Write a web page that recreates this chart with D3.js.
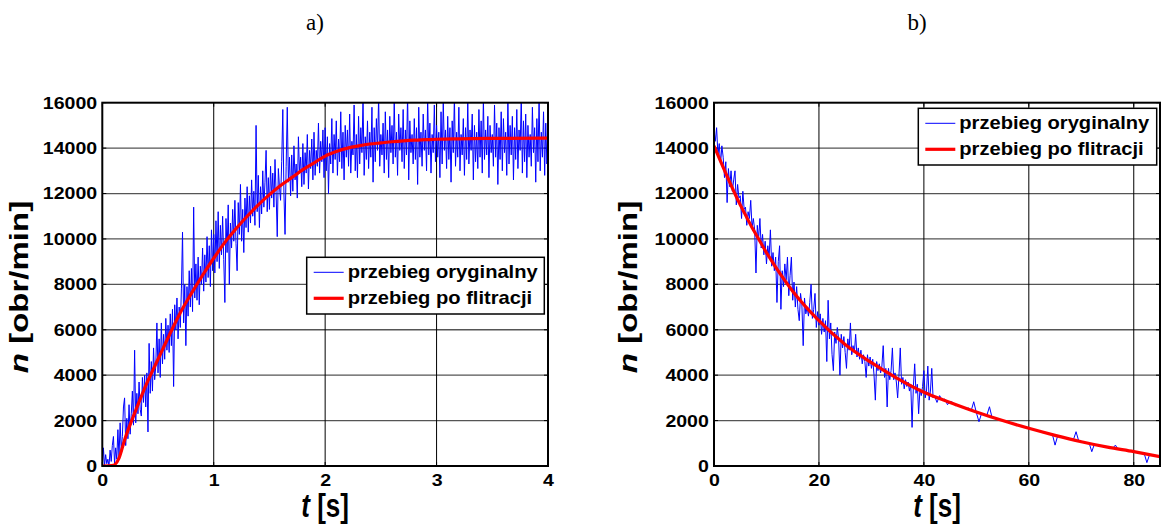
<!DOCTYPE html>
<html>
<head>
<meta charset="utf-8">
<script src="https://cdn.jsdelivr.net/npm/d3@7"></script>
<style>
  html, body { margin: 0; padding: 0; background: #fff; }
  svg { display: block; }
  text { font-family: "Liberation Sans", Arial, sans-serif; font-weight: bold; fill: #000; }
</style>
</head>
<body>
<svg id="fig" width="1165" height="524"></svg>
<script>
// ---- panel a) : run-up, sampled every 0.01 s from 0 to 4 s ----
const runupDt = 0.01;
const runupRaw = [
  0, 800, 0, 500, 100, 300, 0, 700, 200, 900,
  1300, 100, 800, 300, 1600, 400, 1900, 700, 1300, 2600,
  3000, 900, 2100, 1200, 2700, 1400, 2300, 3300, 1800, 5100,
  1900, 3200, 2300, 3700, 2500, 2200, 3900, 2800, 4000, 2600,
  4100, 1500, 5400, 3200, 4600, 3300, 5200, 3800, 4400, 6300,
  4100, 5600, 3900, 6300, 4500, 5800, 4700, 6500, 5100, 6200,
  5000, 6700, 5300, 6900, 3500, 7100, 6000, 7400, 5600, 7000,
  6100, 7800, 10300, 6300, 8000, 5300, 7900, 6600, 8600, 7000,
  8700, 6800, 11400, 7400, 8900, 7300, 9200, 7100, 8800, 8000,
  9600, 7700, 9300, 8100, 10100, 8300, 9700, 7900, 10400, 8600,
  10200, 8500, 10800, 9000, 11200, 8700, 10600, 9300, 11000, 9100,
  7200, 10900, 9400, 11500, 8000, 10700, 9600, 11300, 9900, 11700,
  9800, 8600, 11600, 10200, 12400, 9900, 11300, 9400, 11800, 10500,
  12300, 10300, 11900, 10700, 12600, 11000, 12100, 10600, 15000, 11200,
  12800, 10500, 12300, 11100, 13000, 11400, 12500, 13900, 11200, 12700,
  11300, 13200, 11800, 12900, 11400, 13500, 12000, 10100, 13100, 12300,
  11700, 13400, 15700, 12000, 10200, 13200, 15800, 12500, 13600, 11900,
  13700, 12100, 14100, 12600, 13300, 11800, 14500, 12900, 13600, 12300,
  14200, 12400, 13800, 12900, 14600, 12200, 13900, 13100, 14400, 12600,
  14700, 12800, 13900, 13200, 15100, 12900, 14300, 13400, 14800, 12700,
  14900, 13000, 14500, 12000, 14200, 13300, 15300, 12900, 14600, 13500,
  15200, 12800, 14400, 13400, 15600, 13100, 14700, 12600, 15000, 13600,
  14800, 13200, 15500, 12900, 14300, 13700, 15900, 13000, 14600, 12700,
  15400, 13300, 14900, 13800, 16200, 12800, 14500, 13500, 15200, 13100,
  14700, 13600, 15800, 12500, 14900, 13400, 15300, 13900, 16300, 13200,
  14600, 13700, 15100, 12900, 15600, 13500, 14800, 12700, 15400, 13800,
  15000, 13300, 16100, 13600, 14700, 12800, 15500, 13900, 14900, 13400,
  15700, 13100, 14800, 13700, 16400, 12600, 15200, 13800, 14600, 13300,
  15300, 13500, 14900, 12400, 15800, 13600, 14700, 13200, 15500, 13900,
  14800, 13000, 16200, 13700, 15100, 12900, 14600, 13800, 15900, 13400,
  15000, 13600, 14700, 12700, 15600, 13300, 16100, 13900, 14800, 13100,
  15400, 13500, 14900, 12500, 15200, 13800, 16300, 13200, 14700, 13600,
  15800, 13000, 14600, 13700, 15300, 12800, 14900, 13500, 16000, 13300,
  14800, 13900, 15500, 12600, 15000, 13400, 14700, 13100, 15700, 13600,
  15200, 12900, 16200, 13500, 14800, 13700, 15400, 12700, 15000, 13800,
  14600, 13200, 15900, 13600, 15100, 12400, 14900, 13500, 15600, 13000,
  15300, 13800, 14700, 12800, 16100, 13300, 15000, 13700, 15400, 12600,
  14900, 13500, 15700, 13100, 14800, 13900, 16300, 12900, 15200, 13400,
  15500, 12700, 15000, 13600, 14600, 13200, 15800, 13800, 14900, 12500,
  15300, 13400, 16200, 13000, 14700, 13600, 15600, 12800, 15100, 13300,
  14600
];
// filtered run-up curve
const runupFiltT = [0, 0.1, 0.15, 0.2, 0.3, 0.4, 0.5, 0.6, 0.7, 0.8, 0.9, 1.0, 1.1, 1.2, 1.3, 1.4,
  1.5, 1.6, 1.7, 1.8, 1.9, 2.0, 2.1, 2.2, 2.3, 2.4, 2.5, 2.6, 2.7, 2.8, 2.9, 3.0, 3.2, 3.5, 4.0];
const runupFiltN = [0, 30, 350, 1150, 2450, 3650, 4700, 5750, 6750, 7600, 8400, 9150, 9850, 10450, 11000, 11500,
  11950, 12350, 12700, 13050, 13350, 13650, 13850, 14000, 14100, 14180, 14230, 14280, 14320, 14350, 14370, 14390, 14410, 14430, 14440];

// ---- panel b) : run-down; 0.25 s samples up to 42 s, then 0.5 s samples to 85 s ----
const rundownDtA = 0.25;
const rundownRawA = [
  14800, 14300, 14900, 13700,
  14200, 13300, 14100, 13600,
  12700, 13400, 11600, 13100,
  12300, 13000, 12100, 12600,
  13000, 11500, 12400, 11800,
  11900, 10900, 12100, 11300,
  11400, 10600, 11200, 10900,
  11700, 10500, 10900, 10400,
  8500, 10600, 10000, 10900,
  9600, 10200, 9300, 9900,
  8900, 9700, 9200, 10400,
  8800, 9400, 8600, 9200,
  7200, 9000, 9700, 6900,
  8600, 7900, 8900, 8200,
  9200, 7500, 8400, 9200,
  7300, 8100, 7000, 7900,
  6900, 6400, 7600, 7100,
  5300, 7400, 6700, 7000,
  6600, 7200, 8000, 6500,
  6900, 7600, 6100, 6800,
  6200, 6700, 5800, 6500,
  5900, 6400, 4600, 7300,
  5600, 6300, 4900, 4200,
  5900, 5400, 6100, 5600,
  4000, 5800, 5200, 5700,
  5000, 4300, 5600, 5100,
  6300, 4900, 5300, 5000,
  5800, 4800, 5200, 4700,
  5100, 4500, 4900, 4600,
  3900, 4900, 4400, 4800,
  4300, 4700, 4000, 2900,
  4600, 4200, 4500, 4100,
  4400, 5300, 3900, 4300,
  2600, 4300, 3800, 4200,
  5200, 3800, 4100, 3700,
  3000, 4000, 5200, 3600,
  3900, 3400, 3800, 3500,
  3700, 3300, 3600, 1700,
  3500, 4500, 3200, 3600,
  2300, 3400, 3100, 3500,
  4200, 3000, 3300, 4400,
  2900, 3300, 4300, 3000,
  3100
];
const rundownStartB = 42.5;
const rundownDtB = 0.5;
const rundownRawB = [
  2800, 3100, 2900, 2950, 2700, 2850, 2800, 2650, 2720, 2600,
  2620, 2500, 2560, 2420, 2830, 2350, 1950, 2320, 2250, 2230,
  2610, 2120, 2130, 2050, 2060, 1980, 1990, 1920, 1910, 1840,
  1850, 1780, 1770, 1720, 1710, 1650, 1640, 1590, 1580, 1530,
  1520, 1460, 1450, 1400, 1390, 920, 1330, 1280, 1270, 1230,
  1220, 1170, 1160, 1510, 1110, 1060, 1060, 1010, 1010, 630,
  960, 910, 910, 870, 860, 820, 820, 780, 920, 740,
  740, 700, 700, 660, 660, 620, 620, 580, 580, 540,
  150, 490, 490, 450, 450, 400
];
// filtered run-down curve
const rundownFiltT = [0, 5, 10, 15, 20, 25, 30, 35, 40, 45, 50, 55, 60, 65, 70, 75, 80, 85];
const rundownFiltN = [14100, 11500, 9400, 7700, 6400, 5350, 4550, 3850, 3250, 2800, 2380, 2000, 1660, 1350, 1070, 830, 630, 410];

// ---- axis ticks and labels ----
const nTicks = [0, 2000, 4000, 6000, 8000, 10000, 12000, 14000, 16000];
const runupTicks = [0, 1, 2, 3, 4];
const rundownTicks = [0, 20, 40, 60, 80];
const panelTitles = ["a)", "b)"];
const legendLabels = ["przebieg oryginalny", "przebieg po flitracji"];

// ---- assemble point series ----
const runupRawPts = runupRaw.map((n, i) => ({ t: i * runupDt, n }));
const runupFiltPts = runupFiltT.map((t, i) => ({ t, n: runupFiltN[i] }));
const rundownRawPts = rundownRawA.map((n, i) => ({ t: i * rundownDtA, n }))
  .concat(rundownRawB.map((n, i) => ({ t: rundownStartB + i * rundownDtB, n })));
const rundownFiltPts = rundownFiltT.map((t, i) => ({ t, n: rundownFiltN[i] }));

const svg = d3.select("#fig");
const SX = 1.15;   // horizontal stretch of tick and legend text
const SV = 1.27;   // vertical stretch of axis titles

function drawPanel(cfg) {
  const { left, right, top, bottom, xDomain, xTicks, raw, filt, legend, title, titleX, yTitleX } = cfg;
  const x = d3.scaleLinear().domain(xDomain).range([left, right]);
  const y = d3.scaleLinear().domain([0, 16000]).range([bottom, top]);
  const g = svg.append("g");
  const clipId = "clip" + Math.round(left);
  svg.append("clipPath").attr("id", clipId)
    .append("rect").attr("x", left).attr("y", top).attr("width", right - left).attr("height", bottom - top);

  // grid
  g.append("g").selectAll("line").data(nTicks.slice(1, -1)).join("line")
    .attr("x1", left).attr("x2", right)
    .attr("y1", d => y(d)).attr("y2", d => y(d))
    .attr("stroke", "#555").attr("stroke-width", 1.3);
  g.append("g").selectAll("line").data(xTicks.filter(d => d > xDomain[0] && d < xDomain[1])).join("line")
    .attr("y1", top).attr("y2", bottom)
    .attr("x1", d => x(d)).attr("x2", d => x(d))
    .attr("stroke", "#000").attr("stroke-width", 1);

  // inward tick marks on all four sides
  const tl = 4;
  const tk = g.append("g").attr("stroke", "#000").attr("stroke-width", 1);
  nTicks.forEach(d => {
    tk.append("line").attr("x1", left).attr("x2", left + tl).attr("y1", y(d)).attr("y2", y(d));
    tk.append("line").attr("x1", right).attr("x2", right - tl).attr("y1", y(d)).attr("y2", y(d));
  });
  xTicks.forEach(d => {
    tk.append("line").attr("x1", x(d)).attr("x2", x(d)).attr("y1", bottom).attr("y2", bottom - tl);
    tk.append("line").attr("x1", x(d)).attr("x2", x(d)).attr("y1", top).attr("y2", top + tl);
  });

  // data
  const line = d3.line().x(d => x(d.t)).y(d => y(d.n));
  const dg = g.append("g").attr("clip-path", `url(#${clipId})`);
  dg.append("path").datum(raw).attr("d", line)
    .attr("fill", "none").attr("stroke", "#0000ff").attr("stroke-width", 1).attr("stroke-linejoin", "round");
  dg.append("path").datum(filt).attr("d", line.curve(d3.curveMonotoneX))
    .attr("fill", "none").attr("stroke", "#ff0000").attr("stroke-width", 3.2).attr("stroke-linejoin", "round");

  // frame
  g.append("rect").attr("x", left).attr("y", top).attr("width", right - left).attr("height", bottom - top)
    .attr("fill", "none").attr("stroke", "#000").attr("stroke-width", 2);

  // tick labels via d3 axes (axis lines hidden)
  const ay = g.append("g").attr("transform", `translate(${left},0)`)
    .call(d3.axisLeft(y).tickValues(nTicks).tickFormat(d3.format("d")).tickSize(0).tickPadding(4.5));
  ay.select(".domain").remove();
  ay.selectAll("text").attr("font-size", 17).attr("font-family", null).attr("transform", `scale(${SX},1)`);
  const ax = g.append("g").attr("transform", `translate(0,${bottom})`)
    .call(d3.axisBottom(x).tickValues(xTicks).tickFormat(d3.format("d")).tickSize(0).tickPadding(8));
  ax.select(".domain").remove();
  ax.selectAll("text").attr("font-size", 17).attr("font-family", null).attr("transform", `scale(${SX},1)`);

  // axis titles
  const cx = (left + right) / 2;
  const xt = g.append("text").attr("text-anchor", "middle").attr("font-size", 26)
    .attr("transform", `translate(${cx},517) scale(1,${SV})`);
  xt.append("tspan").attr("font-style", "italic").text("t");
  xt.append("tspan").text(" [s]");
  const yt = g.append("text").attr("text-anchor", "middle").attr("font-size", 26)
    .attr("transform", `translate(${yTitleX},287) scale(1,${SV}) rotate(-90)`);
  yt.append("tspan").attr("font-style", "italic").text("n");
  yt.append("tspan").text(" [obr/min]");

  // panel title
  svg.append("text").attr("x", titleX).attr("y", 30).attr("text-anchor", "middle")
    .style("font-family", "'Liberation Serif', 'Times New Roman', serif").style("font-weight", "normal")
    .attr("font-size", 23).text(title);

  // legend
  const lg = g.append("g");
  lg.append("rect").attr("x", legend.x).attr("y", legend.y).attr("width", legend.w).attr("height", legend.h)
    .attr("fill", "#fff").attr("stroke", "#000").attr("stroke-width", 1.5);
  const rows = [{ c: "#0000ff", w: 1 }, { c: "#ff0000", w: 3.2 }];
  rows.forEach((r, i) => {
    const yy = legend.y + 15 + i * 26;
    lg.append("line").attr("x1", legend.x + 7).attr("x2", legend.x + 37).attr("y1", yy).attr("y2", yy)
      .attr("stroke", r.c).attr("stroke-width", r.w);
    lg.append("text").attr("font-size", 17.5)
      .attr("transform", `translate(${legend.x + 41},${yy + 6}) scale(${SX},1)`)
      .text(legendLabels[i]);
  });
}

drawPanel({
  left: 102.3, right: 548, top: 102.7, bottom: 466,
  xDomain: [0, 4], xTicks: runupTicks,
  raw: runupRawPts, filt: runupFiltPts,
  legend: { x: 306.7, y: 257.3, w: 237.6, h: 56.7 },
  title: panelTitles[0], titleX: 315, yTitleX: 27.5
});
drawPanel({
  left: 714, right: 1160, top: 102.7, bottom: 466,
  xDomain: [0, 85], xTicks: rundownTicks,
  raw: rundownRawPts, filt: rundownFiltPts,
  legend: { x: 918.3, y: 108.3, w: 238.4, h: 56.7 },
  title: panelTitles[1], titleX: 917, yTitleX: 637
});
</script>
</body>
</html>
